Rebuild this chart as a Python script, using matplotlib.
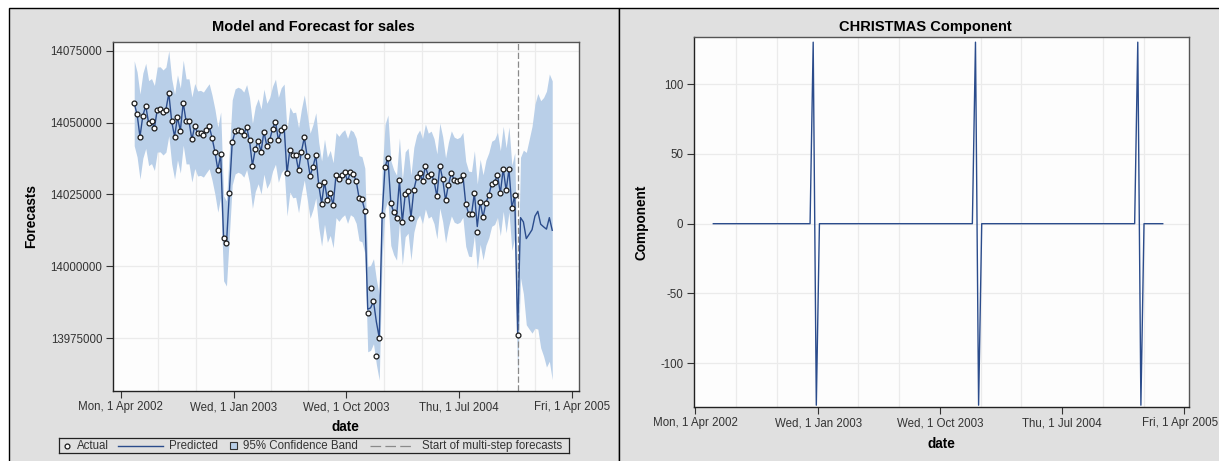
import numpy as np
import pandas as pd
import matplotlib
matplotlib.use("Agg")
import matplotlib.pyplot as plt
import matplotlib.transforms as mtransforms
from matplotlib.patches import Rectangle
from matplotlib.lines import Line2D
from matplotlib.ticker import FixedLocator, FixedFormatter

plt.rcParams['font.family'] = ['Liberation Sans', 'DejaVu Sans']

# ---------------------------------------------------------------- data
first_week = "2002-05-04"          # weekly observations (week ending Saturday)
n_forecast = 12

actual = [
    14056700, 14052800, 14045100, 14052400, 14055800, 14049800, 14050500, 14048100,
    14054500, 14054600, 14053500, 14054500, 14060200, 14050400, 14045100, 14051800,
    14047200, 14056900, 14050400, 14050400, 14044100, 14048800, 14046200, 14046400,
    14045800, 14047300, 14048700, 14044700, 14039800, 14033600, 14038900, 14009700,
    14007900, 14025300, 14043100, 14046900, 14047500, 14047000, 14045800, 14048400,
    14043800, 14034900, 14040800, 14043500, 14039900, 14046800, 14041900, 14043900,
    14047900, 14050300, 14044000, 14047300, 14048600, 14032300, 14040600, 14038600,
    14038800, 14033400, 14039900, 14044800, 14038200, 14031500, 14034500, 14038600,
    14028300, 14021800, 14029400, 14023100, 14025500, 14021200, 14031700, 14030400,
    14031800, 14032700, 14029700, 14032700, 14032000, 14029700, 14023700, 14023300,
    14019300, 13983800, 13992500, 13987800, 13968800, 13975100, 14017700, 14034500,
    14037500, 14022000, 14018800, 14016900, 14029900, 14015300, 14025000, 14026300,
    14016900, 14026600, 14030900, 14032600, 14029600, 14034700, 14031500, 14032200,
    14029600, 14024300, 14035000, 14030300, 14022900, 14028400, 14032300, 14030100,
    14029600, 14030100, 14031800, 14021700, 14018300, 14018100, 14025400, 14012000,
    14022400, 14017000, 14022100, 14024700, 14028700, 14029300, 14031800, 14025400,
    14033900, 14026400, 14033700, 14020300, 14024700, 13975900,
]

predicted_fit = [
    14056700, 14052800, 14045100, 14052400, 14055800, 14049800, 14050500, 14048100,
    14054500, 14054600, 14053500, 14054500, 14060200, 14050400, 14045100, 14051800,
    14047200, 14056900, 14050400, 14050400, 14044100, 14048800, 14046200, 14046400,
    14045800, 14047300, 14048700, 14044700, 14039800, 14033600, 14038900, 14009700,
    14007900, 14025300, 14043100, 14046900, 14047500, 14047000, 14045800, 14048400,
    14043800, 14034900, 14040800, 14043500, 14039900, 14046800, 14041900, 14043900,
    14047900, 14050300, 14044000, 14047300, 14048600, 14032300, 14040600, 14038600,
    14038800, 14033400, 14039900, 14044800, 14038200, 14031500, 14034500, 14038600,
    14028300, 14021800, 14029400, 14023100, 14025500, 14021200, 14031700, 14030400,
    14031800, 14032700, 14029700, 14032700, 14032000, 14029700, 14023700, 14023300,
    14019300, 13985000, 13985500, 13987800, 13980600, 13975100, 14017700, 14034500,
    14037800, 14022000, 14018800, 14016900, 14029900, 14015300, 14025000, 14026300,
    14016900, 14026600, 14030900, 14032600, 14029600, 14034700, 14031500, 14032200,
    14029600, 14024300, 14035000, 14030300, 14022900, 14028400, 14032300, 14030100,
    14029600, 14030100, 14031800, 14021700, 14018300, 14018100, 14025400, 14013800,
    14022400, 14017000, 14022100, 14024700, 14028700, 14029300, 14031800, 14025400,
    14033900, 14026400, 14033700, 14020300, 14024700, 13976500,
]

forecast = [14016900, 14015400, 14009600, 14011100, 14012700, 14017400,
            14019100, 14014600, 14013700, 14012900, 14016900, 14012500]

fit_halfwidth = 14800            # 95% band half-width over the fit period
forecast_halfwidth = [21000, 25000, 30000, 33000, 36000, 39000,
                      41000, 43000, 45000, 48000, 50000, 52000]

christmas_up_weeks = ["2002-12-21", "2003-12-20", "2004-12-18"]
christmas_down_weeks = ["2002-12-28", "2003-12-27", "2004-12-25"]
christmas_effect = 130.0
component_start = "2002-05-11"

xtick_dates = ["2002-04-01", "2003-01-01", "2003-10-01", "2004-07-01", "2005-04-01"]
xtick_labels = ["Mon, 1 Apr 2002", "Wed, 1 Jan 2003", "Wed, 1 Oct 2003",
                "Thu, 1 Jul 2004", "Fri, 1 Apr 2005"]
grid_dates = ["2002-04-01", "2002-07-01", "2002-10-01", "2003-01-01", "2003-04-01",
              "2003-07-01", "2003-10-01", "2004-01-01", "2004-04-01", "2004-07-01",
              "2004-10-01", "2005-01-01", "2005-04-01"]
left_yticks = [13975000, 14000000, 14025000, 14050000, 14075000]
left_ytick_labels = ["13975000", "14000000", "14025000", "14050000", "14075000"]
right_yticks = [-100, -50, 0, 50, 100]
right_ytick_labels = ["-100", "-50", "0", "50", "100"]

# ---------------------------------------------------------------- series
n_fit = len(actual)
dates = pd.date_range(first_week, periods=n_fit + n_forecast, freq="7D")
dates_fit = dates[:n_fit]
pred_all = np.array(predicted_fit + forecast, dtype=float)
half_all = np.array([fit_halfwidth] * n_fit + forecast_halfwidth, dtype=float)
lower = pred_all - half_all
upper = pred_all + half_all

comp_dates = dates[dates >= pd.Timestamp(component_start)]
comp = pd.Series(0.0, index=comp_dates)
comp[pd.to_datetime(christmas_up_weeks)] = christmas_effect
comp[pd.to_datetime(christmas_down_weeks)] = -christmas_effect

# ---------------------------------------------------------------- figure
W, H = 1219, 461
fig = plt.figure(figsize=(W / 100, H / 100), dpi=100)
fig.patch.set_facecolor("white")


def px_box(x0, y0, x1, y1):
    return [x0 / W, 1 - y1 / H, (x1 - x0) / W, (y1 - y0) / H]


PANEL = "#e0e0e0"
for x0, x1 in [(8.5, 618.5), (618.5, 1240)]:
    fig.add_artist(Rectangle((x0 / W, 1 - 475 / H), (x1 - x0) / W, (475 - 8.5) / H,
                             transform=fig.transFigure, facecolor=PANEL,
                             edgecolor="black", lw=1.0, zorder=0))

LINE = "#2b4c8c"
BAND = "#b9cfe8"
TXT = "#333333"
GRID = "#ebebeb"


def style_axes(ax, xlim):
    ax.set_facecolor("#fdfdfd")
    ax.set_xlim(pd.Timestamp(xlim[0]), pd.Timestamp(xlim[1]))
    ax.xaxis.set_major_locator(FixedLocator(
        matplotlib.dates.date2num(pd.to_datetime(xtick_dates))))
    ax.xaxis.set_major_formatter(FixedFormatter(xtick_labels))
    ax.xaxis.set_minor_locator(FixedLocator(
        matplotlib.dates.date2num(pd.to_datetime(grid_dates))))
    ax.grid(True, axis="x", which="minor", color=GRID, lw=0.9)
    ax.grid(True, axis="y", which="major", color=GRID, lw=0.9)
    ax.set_axisbelow(True)
    ax.tick_params(axis="both", which="major", length=5, width=0.8, color=TXT,
                   labelsize=8.3, labelcolor=TXT, pad=2.5)
    ax.tick_params(axis="x", which="minor", length=0)
    for side in ["left", "bottom"]:
        ax.spines[side].set_color("#222222")
    for side in ["top", "right"]:
        ax.spines[side].set_color("#555555")
    for s in ax.spines.values():
        s.set_linewidth(1.0)


# --- left: model and forecast
ax1 = fig.add_axes(px_box(112.8, 42, 579, 390.7))
style_axes(ax1, ("2002-03-13", "2005-04-18"))
ax1.set_ylim(13956660, 14078030)
ax1.yaxis.set_major_locator(FixedLocator(left_yticks))
ax1.yaxis.set_major_formatter(FixedFormatter(left_ytick_labels))
ax1.fill_between(dates, lower, upper, color=BAND, lw=0, zorder=1)
ax1.axvline(dates_fit[-1], color="#8a8a8a", lw=0.9, dashes=(5, 2), zorder=2)
ax1.plot(dates, pred_all, color=LINE, lw=1.0, zorder=3)
ax1.plot(dates_fit, actual, ls="none", marker="o", ms=3.5, mfc="white",
         mec="#1a1a1a", mew=0.9, zorder=4)

# --- right: christmas component
ax2 = fig.add_axes(px_box(693.7, 37.3, 1188.6, 407))
style_axes(ax2, ("2002-03-28", "2005-04-11"))
ax2.set_ylim(-131.3, 133.5)
ax2.yaxis.set_major_locator(FixedLocator(right_yticks))
ax2.yaxis.set_major_formatter(FixedFormatter(right_ytick_labels))
ax2.plot(comp.index, comp.values, color=LINE, lw=1.0, zorder=3)

# keep the last date label of the right panel inside the figure edge
fig.canvas.draw()
last_lbl = ax2.get_xticklabels()[-1]
last_lbl.set_transform(last_lbl.get_transform() +
                       mtransforms.ScaledTranslation(-4 / 100, 0, fig.dpi_scale_trans))

# --- titles and axis labels
fig.text(313.8 / W, 1 - 27.3 / H, "Model and Forecast for sales", ha="center",
         va="center", fontsize=10.5, fontweight="bold", color="black")
fig.text(925.8 / W, 1 - 27.3 / H, "CHRISTMAS Component", ha="center",
         va="center", fontsize=10.5, fontweight="bold", color="black")
fig.text(31.1 / W, 1 - 216 / H, "Forecasts", rotation=90, ha="center",
         va="center", fontsize=9.8, fontweight="bold", color="black")
fig.text(345.9 / W, 1 - 427 / H, "date", ha="center", va="center",
         fontsize=9.8, fontweight="bold", color="black")
fig.text(641.1 / W, 1 - 222 / H, "Component", rotation=90, ha="center",
         va="center", fontsize=9.8, fontweight="bold", color="black")
fig.text(941.1 / W, 1 - 444 / H, "date", ha="center", va="center",
         fontsize=9.8, fontweight="bold", color="black")

# --- legend strip below the left plot
lx0, lx1, ly0, ly1 = 59.1, 569.3, 438.3, 453.3
axl = fig.add_axes(px_box(lx0, ly0, lx1, ly1))
axl.set_xlim(lx0, lx1)
axl.set_ylim(ly1, ly0)
axl.set_facecolor("none")
axl.set_xticks([])
axl.set_yticks([])
for s in axl.spines.values():
    s.set_color("#222222")
    s.set_linewidth(0.9)
yc = (ly0 + ly1) / 2
axl.add_line(Line2D([67.3], [yc], ls="none", marker="o", ms=3.5, mfc="white",
                    mec="#1a1a1a", mew=0.9))
axl.text(76.7, yc, "Actual", ha="left", va="center", fontsize=8.3, color=TXT)
axl.add_line(Line2D([117.9, 162.6], [yc, yc], color=LINE, lw=1.0))
axl.text(169.3, yc, "Predicted", ha="left", va="center", fontsize=8.3, color=TXT)
axl.add_patch(Rectangle((229.6, yc - 3.5), 7, 7, facecolor=BAND,
                        edgecolor="#333333", lw=0.8))
axl.text(243.2, yc, "95% Confidence Band", ha="left", va="center",
         fontsize=8.3, color=TXT)
axl.add_line(Line2D([369.6, 414.4], [yc, yc], color="#8a8a8a", lw=0.9,
                    dashes=(8.5, 3.4), solid_capstyle="butt", dash_capstyle="butt"))
axl.text(422.2, yc, "Start of multi-step forecasts", ha="left", va="center",
         fontsize=8.3, color=TXT)

fig.savefig("out.png", dpi=100, facecolor="white")
